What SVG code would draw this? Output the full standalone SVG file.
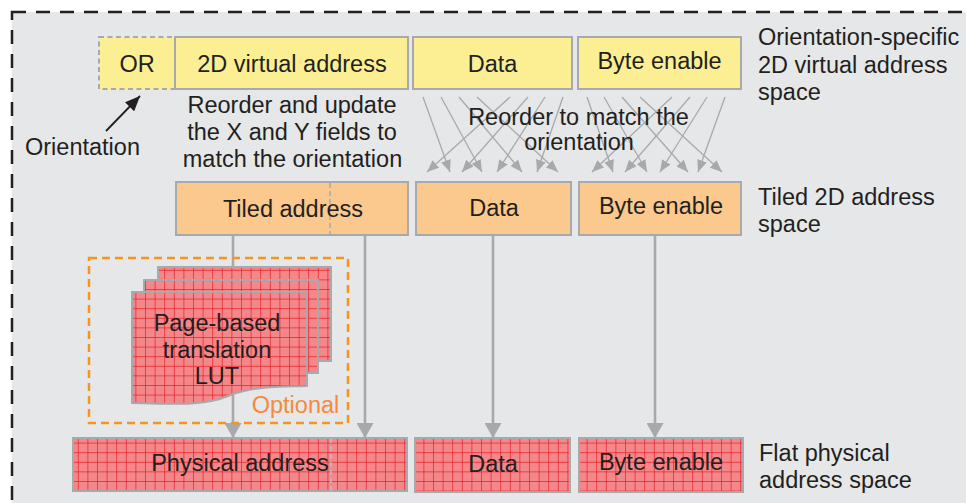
<svg xmlns="http://www.w3.org/2000/svg" width="966" height="503" viewBox="0 0 966 503">
<style>
  .t{font-family:"Liberation Sans",Arial,sans-serif;font-size:23.5px;fill:#231f20}
  .c{text-anchor:middle}
  .yel{fill:#fcef93;stroke:#a7a9ac;stroke-width:2}
  .org{fill:#fbc88e;stroke:#a7a9ac;stroke-width:2}
  .red{fill:url(#grid);stroke:#a7a9ac;stroke-width:2}
  .thin{stroke:#a7a9ac;stroke-width:1.3;fill:none}
  .thick{stroke:#a7a9ac;stroke-width:2.6;fill:none}
</style>
<defs>
  <pattern id="grid" width="9.6" height="9.6" patternUnits="userSpaceOnUse" x="1" y="1">
    <rect width="9.6" height="9.6" fill="#f3878a"/>
    <path d="M0,0H9.6M0,0V9.6" stroke="#ec1f28" stroke-width="1.4"/>
  </pattern>
  <marker id="sm" viewBox="0 0 12 10" refX="12" refY="5" markerWidth="12" markerHeight="10" markerUnits="userSpaceOnUse" orient="auto">
    <path d="M0,0L12,5L0,10Z" fill="#a7a9ac"/>
  </marker>
  <marker id="big" viewBox="0 0 15 17" refX="15" refY="8.5" markerWidth="15" markerHeight="17" markerUnits="userSpaceOnUse" orient="auto">
    <path d="M0,0L15,8.5L0,17Z" fill="#a7a9ac"/>
  </marker>
  <marker id="blk" viewBox="0 0 15 13" refX="15" refY="6.5" markerWidth="15" markerHeight="13" markerUnits="userSpaceOnUse" orient="auto">
    <path d="M0,0L15,6.5L0,13Z" fill="#231f20"/>
  </marker>
</defs>

<rect x="0" y="0" width="966" height="503" fill="#ffffff"/>
<rect id="frame" x="12" y="12" width="1000" height="600" fill="#e6e7e8" stroke="#231f20" stroke-width="2.5" stroke-dasharray="14 10"/>

<!-- connectors -->
<g id="connectors">
  <line class="thick" x1="233" y1="235" x2="233" y2="438" marker-end="url(#big)"/>
  <line class="thick" x1="365" y1="235" x2="365" y2="438" marker-end="url(#big)"/>
  <line class="thick" x1="493" y1="235" x2="493" y2="438" marker-end="url(#big)"/>
  <line class="thick" x1="655" y1="235" x2="655" y2="438" marker-end="url(#big)"/>
  <!-- data reorder -->
  <line class="thin" x1="423" y1="97" x2="450" y2="172" marker-end="url(#sm)"/>
  <line class="thin" x1="441" y1="97" x2="482" y2="172" marker-end="url(#sm)"/>
  <line class="thin" x1="459" y1="97" x2="522" y2="172" marker-end="url(#sm)"/>
  <line class="thin" x1="477" y1="97" x2="558" y2="172" marker-end="url(#sm)"/>
  <line class="thin" x1="510" y1="97" x2="427" y2="172" marker-end="url(#sm)"/>
  <line class="thin" x1="528" y1="97" x2="462" y2="172" marker-end="url(#sm)"/>
  <line class="thin" x1="545" y1="97" x2="497" y2="172" marker-end="url(#sm)"/>
  <line class="thin" x1="563" y1="97" x2="537" y2="172" marker-end="url(#sm)"/>
  <!-- byte enable reorder -->
  <line class="thin" x1="587" y1="97" x2="613" y2="172" marker-end="url(#sm)"/>
  <line class="thin" x1="604" y1="97" x2="647" y2="172" marker-end="url(#sm)"/>
  <line class="thin" x1="622" y1="97" x2="688" y2="172" marker-end="url(#sm)"/>
  <line class="thin" x1="640" y1="97" x2="722" y2="172" marker-end="url(#sm)"/>
  <line class="thin" x1="672" y1="97" x2="592" y2="172" marker-end="url(#sm)"/>
  <line class="thin" x1="690" y1="97" x2="625" y2="172" marker-end="url(#sm)"/>
  <line class="thin" x1="707" y1="97" x2="660" y2="172" marker-end="url(#sm)"/>
  <line class="thin" x1="725" y1="97" x2="698" y2="172" marker-end="url(#sm)"/>
  <!-- orientation arrow -->
  <line x1="106" y1="131" x2="140" y2="96" stroke="#231f20" stroke-width="1.8" marker-end="url(#blk)"/>
</g>

<!-- top row -->
<g id="or">
  <rect x="99" y="37" width="76" height="52" fill="#fcef93" stroke="#a7a9ac" stroke-width="2" stroke-dasharray="5 3.5"/>
  <text class="t c" x="137" y="72">OR</text>
</g>
<g id="vaddr">
  <rect class="yel" x="175" y="37" width="233" height="52"/>
  <text class="t c" x="292" y="72">2D virtual address</text>
</g>
<g id="vdata">
  <rect class="yel" x="413" y="37" width="159" height="52"/>
  <text class="t c" x="492.5" y="72">Data</text>
</g>
<g id="vbyte">
  <rect class="yel" x="578" y="37" width="163" height="52"/>
  <text class="t c" x="659.5" y="69">Byte enable</text>
</g>

<!-- second row -->
<g id="taddr">
  <rect class="org" x="176" y="182" width="232" height="53"/>
  <line x1="330" y1="183" x2="330" y2="234" stroke="#a7a9ac" stroke-width="1.5" stroke-dasharray="5 3"/>
  <text class="t c" x="293" y="217">Tiled address</text>
</g>
<g id="tdata">
  <rect class="org" x="416" y="182" width="155" height="53"/>
  <text class="t c" x="494" y="216">Data</text>
</g>
<g id="tbyte">
  <rect class="org" x="579" y="182" width="162" height="53"/>
  <text class="t c" x="661" y="214">Byte enable</text>
</g>

<!-- optional LUT -->
<g id="optional">
  <rect x="89" y="258" width="259" height="165" fill="none" stroke="#f7941d" stroke-width="2.5" stroke-dasharray="8 5"/>
  <text x="295.5" y="413" text-anchor="middle" font-family="Liberation Sans, Arial, sans-serif" font-size="23.5" fill="#f58a3a">Optional</text>
</g>
<g id="lut">
  <rect class="red" x="158" y="267" width="173" height="94"/>
  <rect class="red" x="144" y="280" width="174" height="93"/>
  <path class="red" d="M132,292H307V386C280,387 252,386 228,396C205,406 172,404 132,403Z"/>
  <text class="t c" x="217" y="331">Page-based</text>
  <text class="t c" x="217" y="358">translation</text>
  <text class="t c" x="217" y="384">LUT</text>
</g>

<!-- bottom row -->
<g id="paddr">
  <rect class="red" x="73" y="438" width="334" height="53"/>
  <line x1="331" y1="438" x2="331" y2="494" stroke="#b8c0c8" stroke-width="1.5" stroke-dasharray="5 3"/>
  <text class="t c" x="240" y="471">Physical address</text>
</g>
<g id="pdata">
  <rect class="red" x="415" y="438" width="155" height="54"/>
  <text class="t c" x="493" y="472">Data</text>
</g>
<g id="pbyte">
  <rect class="red" x="579" y="438" width="164" height="54"/>
  <text class="t c" x="661" y="470">Byte enable</text>
</g>

<!-- labels -->
<g id="labels">
  <text class="t c" x="292" y="113">Reorder and update</text>
  <text class="t c" x="292" y="140">the X and Y fields to</text>
  <text class="t c" x="292.5" y="167">match the orientation</text>
  <text class="t c" x="578.5" y="125">Reorder to match the</text>
  <text class="t c" x="579" y="150">orientation</text>
  <text class="t c" x="82.5" y="155">Orientation</text>
  <text class="t" x="758" y="45">Orientation-specific</text>
  <text class="t" x="758" y="73">2D virtual address</text>
  <text class="t" x="758" y="100">space</text>
  <text class="t" x="758" y="205">Tiled 2D address</text>
  <text class="t" x="758" y="232">space</text>
  <text class="t" x="759" y="461">Flat physical</text>
  <text class="t" x="759" y="488">address space</text>
</g>
</svg>
